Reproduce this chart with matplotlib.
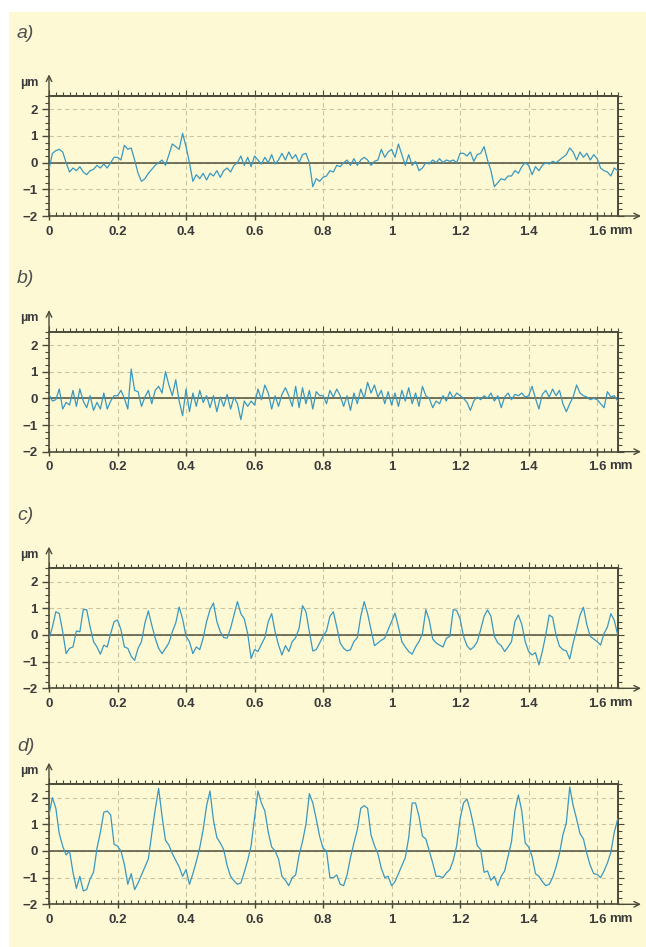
import numpy as np
import matplotlib.pyplot as plt
from matplotlib.patches import Rectangle
from matplotlib.ticker import MultipleLocator

plt.rcParams['font.family'] = ['Liberation Sans', 'DejaVu Sans']

# profile samples every 0.01 mm (µm)
x_step = 0.01

profile_a = [
    -0.25, 0.35, 0.45, 0.5, 0.4, 0.0, -0.35, -0.2, -0.3, -0.15,
    -0.35, -0.45, -0.3, -0.25, -0.1, -0.2, -0.05, -0.2, 0.0, 0.2,
    0.2, 0.1, 0.65, 0.5, 0.55, 0.1, -0.4, -0.7, -0.6, -0.4,
    -0.25, -0.1, 0.0, 0.1, -0.1, 0.3, 0.7, 0.6, 0.5, 1.1,
    0.6, 0.0, -0.7, -0.45, -0.6, -0.4, -0.65, -0.4, -0.5, -0.3,
    -0.55, -0.3, -0.2, -0.35, -0.1, 0.0, 0.25, -0.1, 0.2, -0.15,
    0.25, 0.1, -0.05, 0.2, 0.0, 0.3, -0.05, 0.1, 0.35, 0.1,
    0.4, 0.15, 0.3, 0.0, 0.3, 0.35, 0.0, -0.9, -0.6, -0.7,
    -0.55, -0.5, -0.3, -0.35, -0.1, -0.15, 0.0, 0.1, -0.1, 0.15,
    -0.1, 0.1, 0.2, 0.1, -0.1, 0.05, 0.1, 0.5, 0.2, 0.4,
    0.5, 0.2, 0.7, 0.3, -0.1, 0.3, -0.1, 0.05, -0.3, -0.2,
    0.0, -0.05, 0.1, 0.0, 0.15, 0.0, 0.1, 0.05, 0.1, 0.0,
    0.35, 0.35, 0.25, 0.4, 0.05, 0.3, 0.35, 0.6, 0.1, -0.3,
    -0.9, -0.75, -0.6, -0.65, -0.5, -0.5, -0.3, -0.4, -0.15, 0.0,
    -0.1, -0.45, -0.15, -0.3, -0.1, 0.0, -0.05, 0.05, 0.0, 0.1,
    0.2, 0.3, 0.55, 0.4, 0.1, 0.4, 0.2, 0.35, 0.1, 0.3,
    0.15, -0.2, -0.3, -0.35, -0.5, -0.2, -0.3,
]

profile_b = [
    0.15, -0.1, -0.05, 0.35, -0.4, -0.15, -0.25, 0.3, -0.3, 0.35,
    -0.1, -0.35, 0.1, -0.45, -0.15, -0.4, 0.2, -0.4, -0.1, 0.1,
    0.1, 0.3, 0.0, -0.4, 1.1, 0.3, 0.25, -0.3, 0.05, 0.3,
    -0.2, 0.3, 0.45, 0.2, 1.0, 0.5, 0.1, 0.7, -0.1, -0.65,
    0.35, -0.5, 0.2, -0.3, 0.3, -0.15, 0.1, -0.35, 0.1, -0.5,
    0.05, -0.3, 0.15, -0.4, 0.05, -0.2, -0.8, -0.1, -0.3, -0.1,
    -0.25, 0.35, -0.05, 0.5, 0.2, -0.4, 0.1, -0.3, 0.15, 0.4,
    0.1, -0.3, 0.45, -0.35, 0.4, -0.2, 0.3, -0.4, 0.25, 0.1,
    0.1, -0.2, 0.3, 0.05, 0.35, 0.1, -0.3, 0.1, -0.45, 0.2,
    -0.2, 0.35, 0.0, 0.6, 0.2, 0.5, 0.05, 0.3, -0.2, 0.25,
    -0.25, 0.2, -0.3, 0.3, -0.1, 0.4, -0.2, 0.2, -0.3, 0.45,
    0.1, 0.0, -0.35, -0.1, -0.2, 0.1, -0.1, 0.25, 0.0, 0.2,
    0.1, 0.0, -0.15, -0.45, -0.1, 0.05, -0.05, 0.1, 0.0, 0.2,
    -0.1, 0.1, -0.35, 0.05, 0.2, -0.05, 0.15, 0.1, 0.2, 0.05,
    0.1, 0.45, 0.0, -0.4, 0.15, 0.3, 0.05, 0.35, 0.1, 0.3,
    -0.2, -0.5, -0.2, 0.05, 0.5, 0.2, 0.1, 0.05, -0.05, 0.0,
    -0.05, -0.2, -0.35, 0.25, 0.05, 0.1, -0.1,
]

profile_c = [
    -0.15, 0.3, 0.87, 0.8, 0.12, -0.7, -0.5, -0.45, 0.15, 0.12,
    0.95, 0.95, 0.3, -0.25, -0.45, -0.72, -0.38, -0.45, 0.05, 0.5,
    0.56, 0.2, -0.45, -0.5, -0.8, -0.95, -0.5, -0.25, 0.45, 0.9,
    0.37, -0.12, -0.5, -0.7, -0.5, -0.3, 0.12, 0.45, 1.05, 0.6,
    -0.05, -0.25, -0.7, -0.45, -0.55, -0.12, 0.5, 0.95, 1.2, 0.5,
    0.12, -0.1, -0.12, 0.25, 0.75, 1.25, 0.8, 0.6, 0.05, -0.88,
    -0.55, -0.62, -0.35, -0.1, 0.5, 0.8, 0.12, -0.38, -0.75, -0.4,
    -0.62, -0.25, -0.1, 0.25, 1.1, 0.87, 0.12, -0.6, -0.55, -0.3,
    -0.05, 0.15, 0.7, 0.87, 0.3, -0.3, -0.5, -0.6, -0.55, -0.25,
    -0.1, 0.7, 1.25, 0.8, 0.2, -0.4, -0.3, -0.2, -0.12, 0.2,
    0.5, 0.82, 0.3, -0.25, -0.45, -0.62, -0.72, -0.45, -0.25, 0.05,
    0.95, 0.55, -0.15, -0.3, -0.38, -0.45, -0.12, -0.05, 0.95, 0.92,
    0.6, -0.05, -0.4, -0.55, -0.45, -0.25, 0.2, 0.7, 0.94, 0.7,
    -0.05, -0.3, -0.4, -0.62, -0.45, -0.25, 0.5, 0.75, 0.4, -0.25,
    -0.62, -0.75, -0.66, -1.12, -0.62, 0.0, 0.75, 0.66, 0.0, -0.42,
    -0.55, -0.6, -0.9, -0.3, 0.2, 0.75, 1.04, 0.38, -0.05, -0.15,
    -0.25, -0.38, 0.05, 0.3, 0.8, 0.55, 0.0,
]

profile_d = [
    1.35, 2.0, 1.6, 0.65, 0.18, -0.15, 0.0, -0.8, -1.4, -0.95,
    -1.5, -1.45, -1.05, -0.8, 0.1, 0.7, 1.45, 1.5, 1.35, 0.25,
    0.18, 0.0, -0.5, -1.25, -0.85, -1.45, -1.2, -0.9, -0.6, -0.3,
    0.65, 1.55, 2.35, 1.3, 0.4, 0.22, -0.1, -0.35, -0.6, -0.95,
    -0.7, -1.25, -0.85, -0.4, 0.12, 0.8, 1.7, 2.25, 1.15, 0.5,
    0.3, 0.05, -0.55, -0.95, -1.12, -1.25, -1.2, -0.8, -0.35, 0.2,
    1.25, 2.25, 1.8, 1.5, 0.7, 0.15, 0.0, -0.3, -0.95, -1.1,
    -1.3, -1.0, -0.9, -0.15, 0.35, 1.0, 2.15, 1.8, 1.2, 0.55,
    0.1, 0.0, -1.0, -1.0, -0.9, -1.25, -1.3, -0.9, -0.25, 0.3,
    0.8, 1.6, 1.7, 1.6, 0.6, 0.2, -0.1, -0.65, -1.0, -0.95,
    -1.3, -1.15, -0.85, -0.55, -0.25, 0.5, 1.8, 1.8, 1.3, 0.55,
    0.45, 0.0, -0.45, -0.95, -0.95, -1.0, -0.82, -0.7, -0.35, 0.2,
    1.2, 1.8, 1.95, 1.5, 0.9, 0.2, 0.05, -0.8, -0.75, -1.1,
    -0.95, -1.3, -0.95, -0.75, -0.2, 0.35, 1.5, 2.1, 1.5, 0.3,
    0.15, -0.2, -0.85, -0.95, -1.15, -1.3, -1.25, -1.0, -0.6, -0.1,
    0.6, 1.05, 2.4, 1.7, 1.2, 0.65, 0.45, -0.1, -0.55, -0.85,
    -0.88, -1.0, -0.75, -0.45, -0.05, 0.7, 1.2,
]

panel_names = ['a)', 'b)', 'c)', 'd)']
profiles = [profile_a, profile_b, profile_c, profile_d]
x_ticks = [0, 0.2, 0.4, 0.6, 0.8, 1.0, 1.2, 1.4, 1.6]
x_tick_labels = ['0', '0.2', '0.4', '0.6', '0.8', '1', '1.2', '1.4', '1.6']
y_ticks = [-2, -1, 0, 1, 2]

W, H = 646, 947
bg = '#fdf9d5'
line_col = '#3a98c0'
axis_col = '#4a4a38'
grid_col = '#c9c4a2'
text_col = '#3a3a3a'

fig = plt.figure(figsize=(W / 100, H / 100), dpi=100)
fig.patches.append(Rectangle((9 / W, 0), 1 - 9 / W, 1 - 12 / H,
                             transform=fig.transFigure, facecolor=bg,
                             edgecolor='none', zorder=-10))

left_px, right_px = 49, 617.7
tops = [96, 331.7, 568.3, 784.3]
label_y = [33, 278, 515, 746]
box_h = 120

for name, prof, top, ly in zip(panel_names, profiles, tops, label_y):
    ax = fig.add_axes([left_px / W, 1 - (top + box_h) / H,
                       (right_px - left_px) / W, box_h / H])
    ax.set_facecolor(bg)
    xs = np.arange(len(prof)) * x_step
    ax.plot(xs, prof, color=line_col, lw=0.9, zorder=3)
    ax.axhline(0, color='#5c5c46', lw=1.2, zorder=2)

    ax.set_xlim(0, 1.66)
    ax.set_ylim(-2, 2.5)
    ax.set_xticks(x_ticks)
    ax.set_xticklabels(x_tick_labels)
    ax.set_yticks(y_ticks)
    ax.xaxis.set_minor_locator(MultipleLocator(0.02))
    ax.yaxis.set_minor_locator(MultipleLocator(0.25))
    ax.grid(True, which='major', ls=(0, (4, 3)), color=grid_col, lw=0.8, zorder=1)

    for s in ax.spines.values():
        s.set_color(axis_col)
        s.set_linewidth(1.2)

    ax.tick_params(axis='x', which='major', direction='inout', length=6,
                   width=1, color=axis_col, pad=4, labelsize=9.5,
                   labelcolor=text_col)
    ax.tick_params(axis='x', which='minor', direction='in', length=3,
                   width=0.8, color=axis_col)
    ax.tick_params(axis='y', which='major', direction='out', length=5,
                   width=1, color=axis_col, pad=3, labelsize=9.5,
                   labelcolor=text_col)
    ax.tick_params(axis='y', which='minor', direction='out', length=3,
                   width=0.8, color=axis_col)
    for lab in ax.get_xticklabels() + ax.get_yticklabels():
        lab.set_fontweight('bold')

    # ticks on the top and right frame point outward
    sec_x = ax.secondary_xaxis('top')
    sec_x.set_xticks(x_ticks)
    sec_x.xaxis.set_minor_locator(MultipleLocator(0.02))
    sec_x.tick_params(which='both', direction='out', labeltop=False,
                      color=axis_col, width=0.8)
    sec_x.tick_params(which='major', length=4)
    sec_x.tick_params(which='minor', length=3)
    sec_x.spines['top'].set_color(axis_col)
    sec_x.spines['top'].set_linewidth(1.2)
    sec_y = ax.secondary_yaxis('right')
    sec_y.set_yticks(y_ticks)
    sec_y.yaxis.set_minor_locator(MultipleLocator(0.25))
    sec_y.tick_params(which='both', direction='out', labelright=False,
                      color=axis_col, width=0.8)
    sec_y.tick_params(which='major', length=4)
    sec_y.tick_params(which='minor', length=3)
    sec_y.spines['right'].set_color(axis_col)
    sec_y.spines['right'].set_linewidth(1.2)

    # axis arrows
    ax.annotate('', xy=(0, 1.18), xytext=(0, 1.0), xycoords='axes fraction',
                arrowprops=dict(arrowstyle='->', color=axis_col, lw=1.0,
                                shrinkA=0, shrinkB=0), annotation_clip=False)
    ax.annotate('', xy=(1.041, 0), xytext=(1.0, 0), xycoords='axes fraction',
                arrowprops=dict(arrowstyle='->', color=axis_col, lw=1.0,
                                shrinkA=0, shrinkB=0), annotation_clip=False)

    ax.text(-0.019, 1.11, 'µm', transform=ax.transAxes, ha='right', va='center',
            fontsize=9, fontweight='bold', color=text_col)
    ax.annotate('mm', xy=(1.6, 0), xycoords=('data', 'axes fraction'),
                xytext=(8.5, -6.2), textcoords='offset points', ha='left',
                va='top', fontsize=9.5, fontweight='bold', color=text_col)

    fig.text(17 / W, 1 - ly / H, name, ha='left', va='center', fontsize=14,
             style='italic', color='#505050')

fig.savefig('out.png', dpi=100)
